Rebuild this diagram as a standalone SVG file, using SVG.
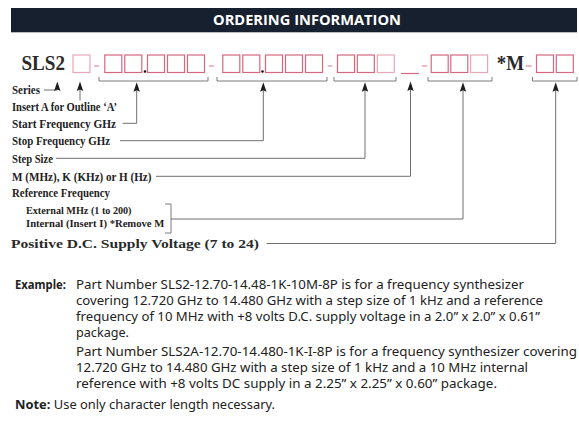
<svg xmlns="http://www.w3.org/2000/svg" width="579" height="434" viewBox="0 0 579 434">
<defs>
<style>
.hdr{font-family:"Open Sans","Noto Sans",sans-serif;font-weight:700;font-size:13.5px;fill:#fff}
.bx{fill:none;stroke:#d6677f;stroke-width:1.2}
.bxl{fill:none;stroke:#e8a7b6;stroke-width:1.2}
.dash{stroke:#e08a9c;stroke-width:1.2}
.br{fill:none;stroke:#7a7a7a;stroke-width:1}
.ln{fill:none;stroke:#6e6e6e;stroke-width:1}
.ah{fill:#1e1e1e}
.big{font-family:"Liberation Serif","Times New Roman",serif;font-weight:700;font-size:20px;fill:#2a2a2a}
.lb{font-family:"Liberation Serif","Times New Roman",serif;font-weight:700;font-size:12.2px;fill:#1e1e1e}
.lbs{font-family:"Liberation Serif","Times New Roman",serif;font-weight:700;font-size:11px;fill:#1e1e1e}
.lbp{font-family:"Liberation Serif","Times New Roman",serif;font-weight:700;font-size:13.5px;fill:#2a2a2a}
.bd{font-family:"Noto Sans","Open Sans",sans-serif;font-size:12.4px;fill:#222}
.bdb{font-weight:700}
</style>
</defs>

<g id="header">
<rect x="11" y="8" width="566" height="24.3" fill="#16202e"/>
<text class="hdr" x="307" y="25" text-anchor="middle" textLength="188" lengthAdjust="spacingAndGlyphs">ORDERING INFORMATION</text>
</g>

<g id="part-code">
<text class="big" x="21.5" y="70" textLength="43.5" lengthAdjust="spacingAndGlyphs">SLS2</text>
<rect class="bxl" x="73" y="55" width="17" height="17.5"/>
<line class="dash" x1="94" y1="66" x2="99" y2="66"/>
<rect class="bx" x="104.8" y="55" width="17" height="17.5"/>
<rect class="bx" x="124.8" y="55" width="17" height="17.5"/>
<circle cx="145" cy="71.5" r="1.3" fill="#111"/>
<rect class="bx" x="147.5" y="55" width="17" height="17.5"/>
<rect class="bx" x="167.5" y="55" width="17" height="17.5"/>
<rect class="bx" x="187.5" y="55" width="17" height="17.5"/>
<line class="dash" x1="209" y1="66" x2="214" y2="66"/>
<rect class="bx" x="222.8" y="55" width="17" height="17.5"/>
<rect class="bx" x="242.8" y="55" width="17" height="17.5"/>
<circle cx="262.5" cy="71.5" r="1.3" fill="#111"/>
<rect class="bx" x="265.5" y="55" width="17" height="17.5"/>
<rect class="bx" x="285.5" y="55" width="17" height="17.5"/>
<rect class="bx" x="305.5" y="55" width="17" height="17.5"/>
<line class="dash" x1="327.7" y1="66" x2="332.3" y2="66"/>
<rect class="bx" x="337.5" y="55" width="17" height="17.5"/>
<rect class="bx" x="357.3" y="55" width="17" height="17.5"/>
<rect class="bxl" x="377.3" y="55" width="17" height="17.5"/>
<line class="bx" x1="401" y1="73.5" x2="419" y2="73.5"/>
<line class="dash" x1="421.7" y1="66" x2="427.3" y2="66"/>
<rect class="bx" x="431.2" y="55" width="17" height="17.5"/>
<rect class="bx" x="450.8" y="55" width="17" height="17.5"/>
<rect class="bxl" x="470.6" y="55" width="17" height="17.5"/>
<text class="big" x="496.7" y="70" textLength="27.3" lengthAdjust="spacingAndGlyphs">*M</text>
<line class="dash" x1="525.7" y1="66" x2="531.7" y2="66"/>
<rect class="bx" x="536.5" y="55" width="17" height="17.5"/>
<rect class="bx" x="556.3" y="55" width="17" height="17.5"/>
</g>

<g id="labels">
<text class="lb" x="12" y="93.5" textLength="28" lengthAdjust="spacingAndGlyphs">Series</text>
<text class="lb" x="12" y="110.5" textLength="105" lengthAdjust="spacingAndGlyphs">Insert A for Outline ‘A’</text>
<text class="lb" x="12" y="127.5" textLength="104" lengthAdjust="spacingAndGlyphs">Start Frequency GHz</text>
<text class="lb" x="12" y="145" textLength="98" lengthAdjust="spacingAndGlyphs">Stop Frequency GHz</text>
<text class="lb" x="12" y="162.5" textLength="41" lengthAdjust="spacingAndGlyphs">Step Size</text>
<text class="lb" x="12" y="180.5" textLength="139.5" lengthAdjust="spacingAndGlyphs">M (MHz), K (KHz) or H (Hz)</text>
<text class="lb" x="12" y="197" textLength="98" lengthAdjust="spacingAndGlyphs">Reference Frequency</text>
<text class="lbs" x="26" y="213.5" textLength="105.5" lengthAdjust="spacingAndGlyphs">External MHz (1 to 200)</text>
<text class="lbs" x="26" y="227" textLength="138.3" lengthAdjust="spacingAndGlyphs">Internal (Insert I) *Remove M</text>
<text class="lbp" x="11" y="247.5" textLength="248" lengthAdjust="spacingAndGlyphs">Positive D.C. Supply Voltage (7 to 24)</text>
</g>

<g id="connectors">
<path class="br" d="M99 77V81H208V77"/>
<path class="br" d="M217 77V81H327V77"/>
<path class="br" d="M334 77V81H396V77"/>
<path class="br" d="M428 77V81H492V77"/>
<path class="br" d="M532.5 77V81H577V77"/>
<path class="br" d="M165 204H171V233H165"/>
<path class="ln" d="M44 90H57.3V88"/>
<path class="ln" d="M80 100.5V88"/>
<path class="ln" d="M122.7 123.3H136.7V88"/>
<path class="ln" d="M120 140.7H263.3V88"/>
<path class="ln" d="M56 158.3H365V88"/>
<path class="ln" d="M156 176.3H410.5V88"/>
<path class="ln" d="M171 219H463V88"/>
<path class="ln" d="M266.5 243.5H555.7V88"/>
<path class="ah" d="M57.3 81.5L60.5 91L57.3 89.5L54.1 91Z"/>
<path class="ah" d="M80 81.5L83.2 91L80 89.5L76.8 91Z"/>
<path class="ah" d="M136.7 82.3L139.9 91.8L136.7 90.3L133.5 91.8Z"/>
<path class="ah" d="M263.3 82.3L266.5 91.8L263.3 90.3L260.1 91.8Z"/>
<path class="ah" d="M365 82.3L368.2 91.8L365 90.3L361.8 91.8Z"/>
<path class="ah" d="M410.5 81.5L413.7 91L410.5 89.5L407.3 91Z"/>
<path class="ah" d="M463 82.3L466.2 91.8L463 90.3L459.8 91.8Z"/>
<path class="ah" d="M555.7 82.3L558.9 91.8L555.7 90.3L552.5 91.8Z"/>
</g>

<g id="notes">
<text class="bd bdb" x="15" y="289" textLength="51" lengthAdjust="spacingAndGlyphs">Example:</text>
<text class="bd" x="76" y="289" textLength="448" lengthAdjust="spacingAndGlyphs">Part Number SLS2-12.70-14.48-1K-10M-8P is for a frequency synthesizer</text>
<text class="bd" x="76" y="305" textLength="467" lengthAdjust="spacingAndGlyphs">covering 12.720 GHz to 14.480 GHz with a step size of 1 kHz and a reference</text>
<text class="bd" x="76" y="321" textLength="464" lengthAdjust="spacingAndGlyphs">frequency of 10 MHz with +8 volts D.C. supply voltage in a 2.0” x 2.0” x 0.61”</text>
<text class="bd" x="76" y="337" textLength="53" lengthAdjust="spacingAndGlyphs">package.</text>
<text class="bd" x="76" y="356" textLength="501" lengthAdjust="spacingAndGlyphs">Part Number SLS2A-12.70-14.480-1K-I-8P is for a frequency synthesizer covering</text>
<text class="bd" x="76" y="372" textLength="452" lengthAdjust="spacingAndGlyphs">12.720 GHz to 14.480 GHz with a step size of 1 kHz and a 10 MHz internal</text>
<text class="bd" x="76" y="388" textLength="421" lengthAdjust="spacingAndGlyphs">reference with +8 volts DC supply in a 2.25” x 2.25” x 0.60” package.</text>
<text class="bd" x="15" y="409" textLength="260" lengthAdjust="spacingAndGlyphs"><tspan class="bdb">Note:</tspan> Use only character length necessary.</text>
</g>
</svg>
